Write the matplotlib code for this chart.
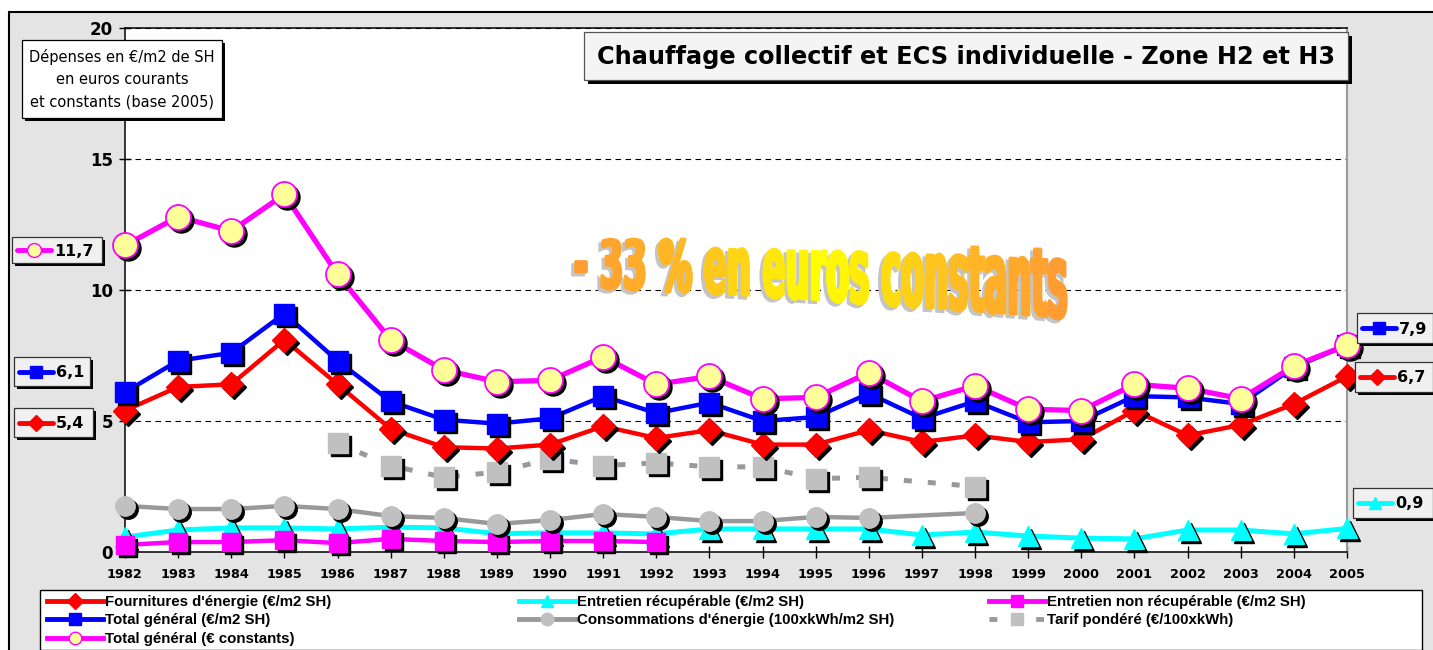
import numpy as np
import matplotlib
matplotlib.use('Agg')
import matplotlib.pyplot as plt
from matplotlib.patches import Rectangle, PathPatch
from matplotlib.textpath import TextPath
from matplotlib.font_manager import FontProperties
from matplotlib.path import Path
from matplotlib.colors import LinearSegmentedColormap
import matplotlib.transforms as mtransforms

nan = np.nan
years = list(range(1982, 2006))

fournitures = [5.4, 6.3, 6.4, 8.1, 6.4, 4.7, 4.0, 3.95, 4.1, 4.8, 4.35, 4.65,
               4.1, 4.1, 4.65, 4.2, 4.45, 4.2, 4.3, 5.4, 4.45, 4.85, 5.65, 6.7]
total_courant = [6.1, 7.3, 7.6, 9.1, 7.3, 5.75, 5.05, 4.9, 5.1, 5.95, 5.3, 5.7,
                 5.0, 5.15, 6.05, 5.1, 5.75, 4.95, 5.0, 5.95, 5.9, 5.65, 7.05, 7.9]
total_constant = [11.7, 12.8, 12.25, 13.65, 10.6, 8.1, 6.95, 6.5, 6.55, 7.45, 6.4, 6.7,
                  5.85, 5.9, 6.85, 5.75, 6.35, 5.45, 5.4, 6.4, 6.25, 5.85, 7.1, 7.9]
entretien_recup = [0.57, 0.84, 0.92, 0.92, 0.88, 0.95, 0.92, 0.7, 0.73, 0.73, 0.69, 0.88,
                   0.88, 0.88, 0.88, 0.65, 0.76, 0.61, 0.53, 0.5, 0.84, 0.84, 0.69, 0.9]
entretien_nonrecup = [0.27, 0.38, 0.38, 0.45, 0.34, 0.5, 0.42, 0.38, 0.42, 0.42, 0.38,
                      nan, nan, nan, nan, nan, nan, nan, nan, nan, nan, nan, nan, nan]
consommations = [1.76, 1.64, 1.64, 1.76, 1.64, 1.37, 1.3, 1.07, 1.22, 1.45, 1.34, 1.18,
                 1.18, 1.34, 1.3, nan, 1.49, nan, nan, nan, nan, nan, nan, nan]
tarif = [nan, nan, nan, nan, 4.15, 3.3, 2.85, 3.05, 3.55, 3.3, 3.4, 3.25,
         3.25, 2.8, 2.85, nan, 2.5, nan, nan, nan, nan, nan, nan, nan]

legend_labels = ["Fournitures d'énergie (€/m2 SH)", "Entretien récupérable (€/m2 SH)",
                 "Entretien non récupérable (€/m2 SH)", "Total général (€/m2 SH)",
                 "Consommations d'énergie (100xkWh/m2 SH)", "Tarif pondéré (€/100xkWh)",
                 "Total général (€ constants)"]
title = "Chauffage collectif et ECS individuelle - Zone H2 et H3"
ylabel_text = "Dépenses en €/m2 de SH\nen euros courants\net constants (base 2005)"
banner = "- 33 % en euros constants"
left_values = ["11,7", "6,1", "5,4"]
right_values = ["7,9", "6,7", "0,9"]

W, H = 1433, 650
fig = plt.figure(figsize=(W / 100, H / 100), dpi=100, facecolor='white')

# background layer
bg = fig.add_axes([0, 0, 1, 1], zorder=0)
bg.set_xlim(0, W); bg.set_ylim(H, 0); bg.axis('off')
bg.add_patch(Rectangle((9, 12), W, H, fc='#e4e4e4', ec='black', lw=1.5))

# main axes
L, R, T, B = 125, 1347, 28, 552
ax = fig.add_axes([L / W, 1 - B / H, (R - L) / W, (B - T) / H], zorder=1)
ax.set_facecolor('white')
ax.set_xlim(1982, 2005)
ax.set_ylim(0, 20)
ax.set_yticks([0, 5, 10, 15, 20])
ax.set_xticks(years)
ax.set_xticklabels([str(y) for y in years], fontsize=9.3, fontweight='bold')
ax.set_yticklabels(['0', '5', '10', '15', '20'], fontsize=12, fontweight='bold')
ax.tick_params(axis='both', direction='inout', length=9, width=1)
ax.tick_params(axis='x', pad=7)
ax.tick_params(axis='y', pad=4)
ax.yaxis.grid(True, ls=(0, (5, 4)), color='black', lw=0.8)
ax.set_axisbelow(True)
for s in ['left', 'bottom', 'top']:
    ax.spines[s].set_color('black'); ax.spines[s].set_linewidth(1.1)
ax.spines['right'].set_color('#9a9a9a'); ax.spines['right'].set_linewidth(1.5)

shadow_tr = mtransforms.offset_copy(ax.transData, fig=fig, x=3, y=-3, units='dots')
x_all = np.array(years)


def series(vals, line_color, lw, marker, ms, mfc, mec, z, ls='-', mew=1.0):
    y = np.asarray(vals, float)
    m = ~np.isnan(y)
    ax.plot(x_all[m], y[m], color=line_color, lw=lw, ls=ls, clip_on=False, zorder=z,
            solid_joinstyle='round')
    ax.plot(x_all[m], y[m], ls='none', marker=marker, ms=ms, mfc='black', mec='black',
            transform=shadow_tr, clip_on=False, zorder=z + 0.1)
    ax.plot(x_all[m], y[m], ls='none', marker=marker, ms=ms, mfc=mfc, mec=mec, mew=mew,
            clip_on=False, zorder=z + 0.2)


series(entretien_recup, '#00ffff', 3.6, '^', 14, '#00ffff', '#00ffff', 3)
series(entretien_nonrecup, '#ff00ff', 3.2, 's', 13, '#ff00ff', '#ff00ff', 4)
series(consommations, '#999999', 3.2, 'o', 14, '#c0c0c0', '#c0c0c0', 5)
series(tarif, '#999999', 3.6, 's', 14, '#c0c0c0', '#c0c0c0', 6, ls=(0, (1.6, 3.2)))
series(fournitures, '#ff0000', 3.2, 'D', 12, '#ff0000', '#ff0000', 7)
series(total_courant, '#0000ff', 3.2, 's', 14, '#0000ff', '#0000ff', 8)
series(total_constant, '#ff00ff', 3.8, 'o', 18, '#ffff99', '#ff00ff', 9, mew=1.3)

# overlay layer (pixel coordinates, y downward)
ov = fig.add_axes([0, 0, 1, 1], zorder=3)
ov.set_xlim(0, W); ov.set_ylim(H, 0); ov.axis('off')
ov.patch.set_alpha(0)


def shadow_box(x0, y0, x1, y1, fc, ec='#333333', off=3, lw=0.9):
    ov.add_patch(Rectangle((x0 + off, y0 + off), x1 - x0, y1 - y0, fc='black', ec='none'))
    ov.add_patch(Rectangle((x0, y0), x1 - x0, y1 - y0, fc=fc, ec=ec, lw=lw))


# y-label box
shadow_box(22, 40, 222, 118, 'white', ec='black')
ov.text(122, 79, ylabel_text, ha='center', va='center', fontsize=10.5,
        linespacing=1.6, family='DejaVu Sans')

# title box
shadow_box(584, 32, 1348, 80, '#f4f4f4', ec='#555555', off=4)
ov.text(966, 57, title, ha='center', va='center', fontsize=17.3, fontweight='bold',
        family='DejaVu Sans')


def value_box(x0, y0, x1, y1, color, marker, ms, mfc, mec, text):
    shadow_box(x0, y0, x1, y1, '#f0f0f0')
    yc = (y0 + y1) / 2
    ov.plot([x0 + 5, x0 + 39], [yc, yc], color=color, lw=3.5, solid_capstyle='round')
    ov.plot([x0 + 22], [yc], marker=marker, ms=ms, mfc=mfc, mec=mec, ls='none')
    ov.text(x0 + 42, yc + 1, text, fontsize=11.5, fontweight='bold', va='center', ha='left')


value_box(12, 237, 102, 263, '#ff00ff', 'o', 10, '#ffff99', '#ff00ff', left_values[0])
value_box(14, 357, 90, 386, '#0000ff', 's', 9, '#0000ff', '#0000ff', left_values[1])
value_box(14, 408, 93, 437, '#ff0000', 'D', 8, '#ff0000', '#ff0000', left_values[2])
value_box(1357, 313, 1433, 343, '#0000ff', 's', 9, '#0000ff', '#0000ff', right_values[0])
value_box(1355, 362, 1433, 392, '#ff0000', 'D', 8, '#ff0000', '#ff0000', right_values[1])
value_box(1353, 488, 1433, 518, '#00ffff', '^', 9, '#00ffff', '#00ffff', right_values[2])

# legend (manual, Excel-like layout)
ov.add_patch(Rectangle((40, 590), 1382, 60, fc='white', ec='black', lw=1.0))
leg_styles = [
    ('#ff0000', 'D', 8, '#ff0000', '#ff0000', '-'),
    ('#00ffff', '^', 9, '#00ffff', '#00ffff', '-'),
    ('#ff00ff', 's', 9, '#ff00ff', '#ff00ff', '-'),
    ('#0000ff', 's', 9, '#0000ff', '#0000ff', '-'),
    ('#999999', 'o', 9, '#c0c0c0', '#c0c0c0', '-'),
    ('#999999', 's', 9, '#c0c0c0', '#c0c0c0', (0, (1.6, 3.2))),
    ('#ff00ff', 'o', 9, '#ffff99', '#ff00ff', '-'),
]
col_x = [47, 519, 989]
row_y = [601, 619, 638]
for i, (lab, st) in enumerate(zip(legend_labels, leg_styles)):
    cx = col_x[i % 3]
    cy = row_y[i // 3]
    c, mk, ms, mfc, mec, ls = st
    ov.plot([cx, cx + 56], [cy, cy], color=c, lw=3.5, ls=ls)
    ov.plot([cx + 28], [cy], marker=mk, ms=ms, mfc=mfc, mec=mec, ls='none')
    ov.text(cx + 58, cy + 1, lab, fontsize=10.8, fontweight='bold', va='center', ha='left',
            family='Liberation Sans')

# WordArt-like banner: glyph outlines warped, coloured by horizontal gradient
fp = FontProperties(family='DejaVu Sans', weight='bold')
tp = TextPath((0, 0), banner, size=100, prop=fp)
verts, codes = tp.vertices.copy(), tp.codes.copy()
xmin, xmax = verts[:, 0].min(), verts[:, 0].max()


def warp(v):
    t = (v[:, 0] - xmin) / (xmax - xmin)
    X = 574 + t * (1066 - 574)
    s = 0.70 + 0.35 * t
    yy = np.where(v[:, 1] > 56, 56 + (v[:, 1] - 56) * 0.6, v[:, 1])
    Yb = 287 + 31 * t ** 1.3
    return np.column_stack([X, Yb - yy * s])


# split into contours
contours = []
start = 0
for k in range(1, len(codes) + 1):
    if k == len(codes) or codes[k] == Path.MOVETO:
        contours.append((verts[start:k], codes[start:k]))
        start = k
boxes = [(c[0][:, 0].min(), c[0][:, 1].min(), c[0][:, 0].max(), c[0][:, 1].max()) for c in contours]
parent = [-1] * len(contours)
for j, bj in enumerate(boxes):
    best, best_area = -1, None
    for i, bi in enumerate(boxes):
        if i == j:
            continue
        if bi[0] <= bj[0] and bi[1] <= bj[1] and bi[2] >= bj[2] and bi[3] >= bj[3]:
            area = (bi[2] - bi[0]) * (bi[3] - bi[1])
            if best_area is None or area < best_area:
                best, best_area = i, area
    parent[j] = best
groups = {}
for j in range(len(contours)):
    root = j if parent[j] == -1 else parent[j]
    groups.setdefault(root, []).append(j)

cmap = LinearSegmentedColormap.from_list('wa', ['#ff9a33', '#ffc020', '#ffff00', '#ffc020', '#ff9a33'])
wv = warp(verts)
ov.add_patch(PathPatch(Path(wv + np.array([-3, 3]), codes), fc='#c4c4c4', ec='#c4c4c4', lw=2.4))
for root, members in groups.items():
    gv = np.concatenate([contours[m][0] for m in members])
    gc = np.concatenate([contours[m][1] for m in members])
    tc = ((gv[:, 0].min() + gv[:, 0].max()) / 2 - xmin) / (xmax - xmin)
    col = cmap(tc)
    ov.add_patch(PathPatch(Path(warp(gv), gc), fc=col, ec=col, lw=2.4, joinstyle='round'))

fig.savefig('out.png', dpi=100, facecolor=fig.get_facecolor())
